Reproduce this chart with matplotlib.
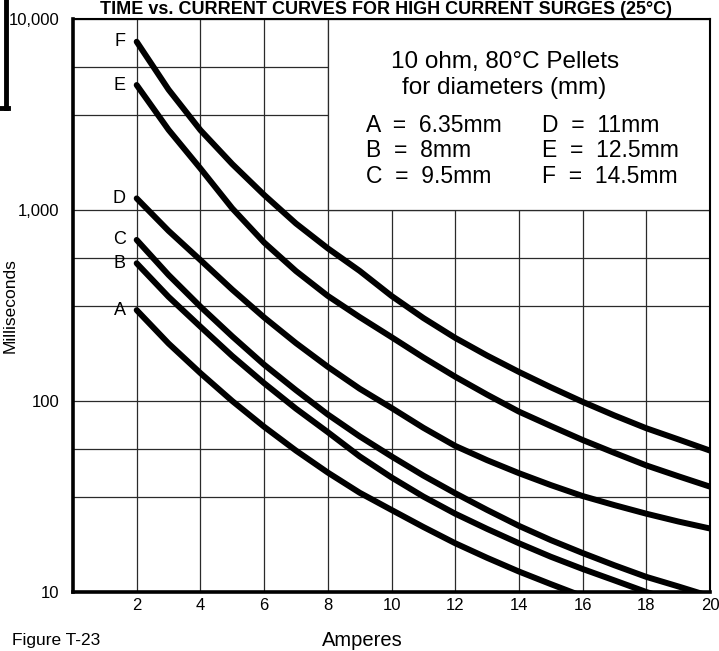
import matplotlib
matplotlib.use("Agg")
import matplotlib.pyplot as plt
from matplotlib import font_manager
from matplotlib.lines import Line2D
from matplotlib.patches import Rectangle
from matplotlib.ticker import FixedLocator, NullFormatter

# Amperes (x) and time-to-trip in milliseconds for each pellet diameter
amps = list(range(2, 21))
curve_f = [7600, 4270, 2620, 1740, 1200, 850, 630, 480, 355, 272, 214, 173, 142, 118, 99, 84, 72, 63, 55]
curve_e = [4510, 2630, 1650, 1020, 676, 479, 355, 275, 216, 169, 134, 108, 88, 74, 62.5, 53.5, 46, 40.4, 35.6]
curve_d = [1150, 778, 547, 383, 274, 201, 151, 116, 92, 72.4, 58.2, 49, 41.9, 36.3, 31.8, 28.5, 25.7, 23.4, 21.5]
curve_c = [697, 457, 312, 218, 155, 114, 85, 65.3, 51.3, 40.7, 32.9, 26.9, 22.2, 18.7, 16, 13.8, 12, 10.7, 9.5]
curve_b = [526, 351, 245, 172, 124, 91.2, 68.7, 51.3, 39.8, 31.6, 25.7, 21.4, 18, 15.3, 13.2, 11.5, 10, 8.9, 7.9]
curve_a = [299, 200, 140, 100, 73.3, 55, 42.2, 33.1, 26.9, 21.9, 18, 15.1, 12.8, 11, 9.5, 8.5, 7.6, 6.8, 6.2]

curve_names = ["F", "E", "D", "C", "B", "A"]
curves = [curve_f, curve_e, curve_d, curve_c, curve_b, curve_a]

legend_left = ["A  =  6.35mm", "B  =  8mm", "C  =  9.5mm"]
legend_right = ["D  =  11mm", "E  =  12.5mm", "F  =  14.5mm"]

x_ticks = list(range(2, 21, 2))
y_ticks = [10, 100, 1000, 10000]
y_tick_labels = ["10", "100", "1,000", "10,000"]
y_minor = [10 ** (k + f) for k in (1, 2, 3) for f in (0.5, 0.75)]

names = {f.name for f in font_manager.fontManager.ttflist}
narrow = "Liberation Sans Narrow" if "Liberation Sans Narrow" in names else "Liberation Sans"
plt.rcParams["font.family"] = ["Liberation Sans", "DejaVu Sans"]

fig = plt.figure(figsize=(7.19, 6.51), dpi=100)
ax = fig.add_axes([73 / 719, 59 / 651, 637 / 719, 573 / 651])

ax.set_yscale("log")
ax.set_xlim(0, 20)
ax.set_ylim(10, 10000)

ax.set_xticks(x_ticks)
ax.set_xticklabels([str(t) for t in x_ticks], fontfamily=narrow, fontsize=12)
ax.set_yticks(y_ticks)
ax.set_yticklabels(y_tick_labels, fontfamily=narrow, fontsize=12)
ax.yaxis.set_minor_locator(FixedLocator(y_minor))
ax.yaxis.set_minor_formatter(NullFormatter())
ax.xaxis.set_minor_locator(FixedLocator([]))
ax.tick_params(axis="both", which="both", length=0)
ax.tick_params(axis="x", pad=4)
ax.tick_params(axis="y", pad=10)

ax.set_axisbelow(True)
ax.grid(True, which="both", color="#2a2a2a", linewidth=0.9)

for side in ("left", "bottom"):
    ax.spines[side].set_linewidth(2.6)
for side in ("top", "right"):
    ax.spines[side].set_linewidth(1.5)

# white panel behind the key text
ax.add_patch(Rectangle((8, 1000), 12, 9000, facecolor="white",
                       edgecolor="#2a2a2a", linewidth=0.9, zorder=1.5))

for name, vals in zip(curve_names, curves):
    ax.plot(amps, vals, color="black", linewidth=4.3,
            solid_capstyle="round", solid_joinstyle="round", zorder=3)
    ax.text(1.65, vals[0], name, ha="right", va="center", fontsize=13, zorder=4)

ax.text(13.55, 10 ** 3.775, "10 ohm, 80°C Pellets", ha="center", va="center", fontsize=17.5)
ax.text(13.55, 10 ** 3.637, "for diameters (mm)", ha="center", va="center", fontsize=17.5)
for i, (l, r) in enumerate(zip(legend_left, legend_right)):
    yy = 10 ** (3.44 - 0.131 * i)
    ax.text(9.2, yy, l, ha="left", va="center", fontsize=16.5)
    ax.text(14.72, yy, r, ha="left", va="center", fontsize=16.5)

ax.set_ylabel("Milliseconds", fontsize=12.5)
ax.yaxis.set_label_coords(-0.087, 0.5)

fig.text(362 / 719, 1 - 640 / 651, "Amperes", ha="center", va="center", fontsize=14.5)
fig.text(12 / 719, 1 - 640 / 651, "Figure T-23", ha="left", va="center",
         fontsize=12.5, fontfamily=narrow)
fig.text(386 / 719, 1 - 1 / 651, "TIME vs. CURRENT CURVES FOR HIGH CURRENT SURGES (25°C)",
         ha="center", va="top", fontsize=13, fontweight="bold")

# corner of the surrounding frame at the upper left
fig.add_artist(Line2D([6 / 719, 6 / 719], [1.0, 1 - 108 / 651], color="black",
                      linewidth=3.5, transform=fig.transFigure))
fig.add_artist(Line2D([0, 7.5 / 719], [1 - 108 / 651, 1 - 108 / 651], color="black",
                      linewidth=3.5, transform=fig.transFigure))

fig.savefig("out.png", dpi=100)
